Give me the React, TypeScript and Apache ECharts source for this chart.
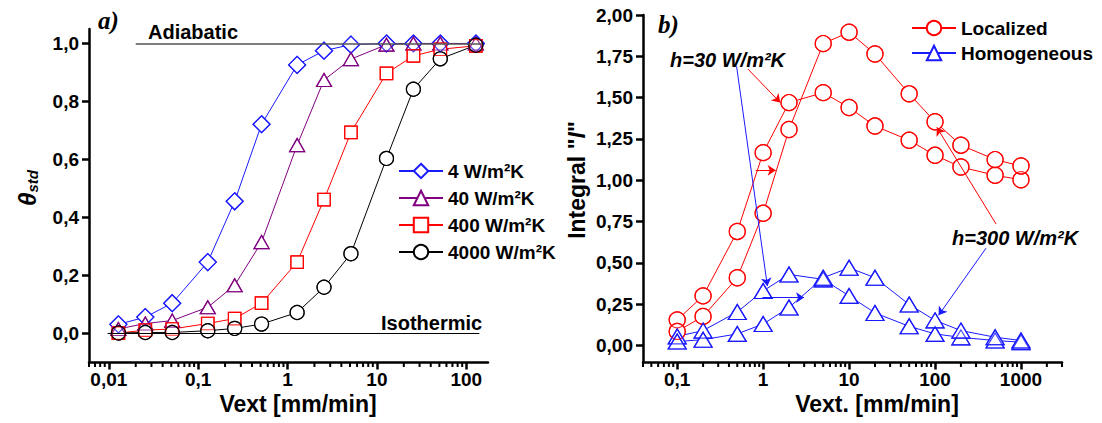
import React, { useEffect, useRef } from 'react';
import * as echarts from 'echarts';

// ---- Panel a) data ----
const vextA = [0.0128, 0.0256, 0.0512, 0.128, 0.256, 0.512, 1.28, 2.56, 5.12, 12.8, 25.6, 51.2, 128];
const theta4 = [0.03, 0.055, 0.103, 0.245, 0.455, 0.721, 0.926, 0.975, 0.996, 1.0, 1.0, 1.0, 1.0];
const theta40 = [0.014, 0.033, 0.043, 0.089, 0.165, 0.314, 0.649, 0.874, 0.946, 0.996, 1.0, 1.0, 1.0];
const theta400 = [0.0, 0.01, 0.014, 0.033, 0.05, 0.103, 0.245, 0.461, 0.693, 0.897, 0.957, 0.98, 0.992];
const theta4000 = [0.0, 0.002, 0.002, 0.008, 0.016, 0.031, 0.071, 0.158, 0.274, 0.603, 0.842, 0.947, 0.994];
const seriesNamesA = ['4 W/m²K', '40 W/m²K', '400 W/m²K', '4000 W/m²K'];

// ---- Panel b) data ----
const vextB = [0.1, 0.2, 0.5, 1, 2, 5, 10, 20, 50, 100, 200, 500, 1000];
const loc30 = [0.155, 0.3, 0.69, 1.167, 1.47, 1.53, 1.44, 1.328, 1.242, 1.151, 1.08, 1.03, 1.003];
const loc300 = [0.085, 0.176, 0.41, 0.8, 1.307, 1.827, 1.896, 1.764, 1.523, 1.354, 1.212, 1.125, 1.086];
const hom30 = [0.055, 0.09, 0.203, 0.33, 0.43, 0.4, 0.3, 0.197, 0.116, 0.07, 0.049, 0.03, 0.02];
const hom300 = [0.024, 0.035, 0.07, 0.13, 0.23, 0.41, 0.47, 0.41, 0.248, 0.152, 0.09, 0.05, 0.03];

// ---- axes ----
const xMajorA = [0.01, 0.1, 1, 10, 100];
const xMajorB = [0.1, 1, 10, 100, 1000];
const yTicksA = [0, 0.2, 0.4, 0.6, 0.8, 1.0];
const yTicksB = [0, 0.25, 0.5, 0.75, 1.0, 1.25, 1.5, 1.75, 2.0];
const minorMult = [2, 3, 4, 5, 6, 7, 8, 9];
const X_A = [0.006, 175];
const X_B = [0.04, 3000];
const Y_A = [-0.1, 1.05];
const Y_B = [-0.1, 2.0];

function minorTicks(lo: number, hi: number): number[] {
  const out: number[] = [];
  for (let e = -4; e <= 4; e++) {
    for (const m of minorMult) {
      const v = +(m * Math.pow(10, e)).toPrecision(3);
      if (v >= lo * 0.999 && v <= hi * 1.001) out.push(v);
    }
  }
  return out;
}

const FONT = '"Liberation Sans", Arial, sans-serif';
const BLUE = '#1a1aff';
const PURPLE = '#800080';
const RED = '#ff0000';
const BLACK = '#000000';
const TICK = '#000000';

const zip = (xs: number[], ys: number[]) => xs.map((x, i) => [x, ys[i]]);

function fmtX(v: number) {
  if (v >= 1) return String(Math.round(v));
  return String(+v.toPrecision(2)).replace('.', ',');
}

function lineSeries(name: string, xi: number, yi: number, data: number[][], color: string, symbol: string, size: any, extra: any = {}) {
  return {
    type: 'line', name, xAxisIndex: xi, yAxisIndex: yi, data,
    symbol, symbolSize: size, showSymbol: true,
    lineStyle: { color, width: 1 },
    itemStyle: { color: '#ffffff', borderColor: color, borderWidth: 1.2 },
    emphasis: { disabled: true },
    z: 2,
    ...extra,
  };
}
function overlay(xi: number, yi: number, data: number[][], color: string, symbol: string, size: any) {
  return {
    type: 'scatter', name: '_o', xAxisIndex: xi, yAxisIndex: yi, data,
    symbol, symbolSize: size, silent: true,
    itemStyle: { color: 'rgba(255,255,255,0)', borderColor: color, borderWidth: 1.2 },
    emphasis: { disabled: true },
    z: 4,
  };
}
function minorTickSeries(xi: number, yi: number, xExt: number[], yMin: number) {
  return {
    type: 'custom', name: '_t', xAxisIndex: xi, yAxisIndex: yi, silent: true, clip: false, z: 6,
    data: minorTicks(xExt[0], xExt[1]).map((v) => [v, yMin]),
    renderItem: (params: any, api: any) => {
      const p = api.coord([api.value(0), api.value(1)]);
      return {
        type: 'line',
        shape: { x1: p[0], y1: p[1], x2: p[0], y2: p[1] + 5 },
        style: { stroke: TICK, lineWidth: 2 },
      };
    },
  };
}

const axisLine = { show: true, onZero: false, lineStyle: { color: '#000', width: 2.5 } };
const tickLabel = { fontSize: 19, fontWeight: 'bold', fontFamily: FONT, color: '#000' };

function xMain(grid: number, ext: number[], majors: number[]) {
  return {
    gridIndex: grid, type: 'log', min: ext[0], max: ext[1], position: 'bottom',
    axisLine,
    axisTick: { show: true, inside: false, customValues: majors, length: 7.5, lineStyle: { color: TICK, width: 2.5 } },
    axisLabel: { show: true, customValues: majors, formatter: fmtX, margin: 8, ...tickLabel },
    splitLine: { show: false }, minorTick: { show: false }, minorSplitLine: { show: false },
  };
}
function yAxis(grid: number, ext: number[], ticks: number[], dec: number) {
  return {
    gridIndex: grid, type: 'value', min: ext[0], max: ext[1],
    axisLine,
    axisTick: { show: true, inside: false, customValues: ticks, length: 7, lineStyle: { color: TICK, width: 2.5 } },
    axisLabel: { show: true, customValues: ticks, formatter: (v: number) => v.toFixed(dec).replace('.', ','), margin: 10, ...tickLabel },
    splitLine: { show: false },
  };
}

function textG(x: number, y: number, text: string, opts: any = {}) {
  return {
    type: 'text', x, y, z: 100, rotation: opts.rotation || 0,
    style: {
      text, fill: '#000', fontFamily: opts.family || FONT, fontSize: opts.size || 20,
      fontWeight: 'bold', fontStyle: opts.italic ? 'italic' : 'normal',
      align: opts.align || 'left', verticalAlign: 'middle', rich: opts.rich,
    },
  };
}

export default function App() {
  const ref = useRef<HTMLDivElement>(null);
  useEffect(() => {
    if (!ref.current) return;
    const chart = echarts.init(ref.current, undefined, { renderer: 'svg' });
    const dataA = [theta4, theta40, theta400, theta4000].map((ys) => zip(vextA, ys));
    const colorsA = [BLUE, PURPLE, RED, BLACK];
    const symA = ['diamond', 'triangle', 'rect', 'circle'];
    const sizeA: any[] = [17, [15, 13], 12.5, 14];

    const series: any[] = [];
    dataA.forEach((d, i) => {
      const extra: any = {};
      if (i === 0) {
        extra.markLine = {
          silent: true, symbol: ['none', 'none'], label: { show: false },
          lineStyle: { type: 'solid' }, emphasis: { disabled: true },
          data: [
            [{ coord: [0.02, 1.0], lineStyle: { color: '#555555', width: 1.5, type: 'solid' } }, { coord: [150, 1.0] }],
            [{ coord: [0.0097, 0.0], lineStyle: { color: '#000000', width: 1.2, type: 'solid' } }, { coord: [140, 0.0] }],
          ],
        };
      }
      series.push(lineSeries(seriesNamesA[i], 0, 0, d, colorsA[i], symA[i], sizeA[i], extra));
    });
    dataA.forEach((d, i) => series.push(overlay(0, 0, d, colorsA[i], symA[i], sizeA[i])));

    const L30 = zip(vextB, loc30), L300 = zip(vextB, loc300);
    const H30 = zip(vextB, hom30), H300 = zip(vextB, hom300);
    const triSize = [18, 15];
    series.push(lineSeries('Localized', 1, 1, L30, RED, 'circle', 16, {
      markLine: {
        silent: true, symbol: ['none', 'arrow'], symbolSize: 8, label: { show: false },
        lineStyle: { color: RED, width: 1, type: 'solid' }, emphasis: { disabled: true },
        data: [
          [{ coord: [0.665, 1.673] }, { coord: [1.58, 1.47] }],
          [{ coord: [0.82, 1.06] }, { coord: [1.4, 1.06] }],
          [{ coord: [513, 0.735] }, { coord: [105, 1.32] }],
        ],
      },
    }));
    series.push(lineSeries('Localized', 1, 1, L300, RED, 'circle', 16));
    series.push(lineSeries('Homogeneous', 1, 1, H30, BLUE, 'triangle', triSize, {
      markLine: {
        silent: true, symbol: ['none', 'arrow'], symbolSize: 8, label: { show: false },
        lineStyle: { color: BLUE, width: 1, type: 'solid' }, emphasis: { disabled: true },
        data: [
          [{ coord: [0.491, 1.689] }, { coord: [1.12, 0.36] }],
          [{ coord: [0.98, 0.29] }, { coord: [2.99, 0.29] }],
          [{ coord: [392, 0.589] }, { coord: [110, 0.183] }],
        ],
      },
    }));
    series.push(lineSeries('Homogeneous', 1, 1, H300, BLUE, 'triangle', triSize));
    series.push(overlay(1, 1, L30, RED, 'circle', 16));
    series.push(overlay(1, 1, L300, RED, 'circle', 16));
    series.push(overlay(1, 1, H30, BLUE, 'triangle', triSize));
    series.push(overlay(1, 1, H300, BLUE, 'triangle', triSize));
    series.push(minorTickSeries(0, 0, X_A, Y_A[0]));
    series.push(minorTickSeries(1, 1, X_B, Y_B[0]));

    const legendText = { fontSize: 19, fontWeight: 'bold', fontFamily: FONT, color: '#000', lineHeight: 20 };
    const supRich = {
      t: { fontSize: 24, fontWeight: 'bold', fontStyle: 'italic', fontFamily: FONT, lineHeight: 26 },
      s: { fontSize: 15, fontWeight: 'bold', fontStyle: 'italic', fontFamily: FONT, lineHeight: 16, verticalAlign: 'bottom' },
    };
    const intRich = {
      a: { fontSize: 23, fontWeight: 'bold', fontFamily: FONT },
      i: { fontSize: 23, fontWeight: 'bold', fontStyle: 'italic', fontFamily: FONT },
    };

    chart.setOption({
      animation: false,
      backgroundColor: '#ffffff',
      grid: [
        { left: 89, top: 29, width: 399, height: 333 },
        { left: 643, top: 15, width: 419, height: 347 },
      ],
      xAxis: [xMain(0, X_A, xMajorA), xMain(1, X_B, xMajorB)],
      yAxis: [yAxis(0, Y_A, yTicksA, 1), yAxis(1, Y_B, yTicksB, 2)],
      legend: [
        {
          data: seriesNamesA, orient: 'vertical', left: 393, top: 156,
          itemWidth: 44, itemHeight: 18, itemGap: 7, selectedMode: false, textStyle: legendText,
        },
        {
          data: ['Localized', 'Homogeneous'], orient: 'vertical', left: 906, top: 13,
          itemWidth: 44, itemHeight: 18, itemGap: 5, selectedMode: false, textStyle: legendText,
        },
      ],
      graphic: [
        textG(98, 20, 'a)', { family: '"Liberation Serif", "Times New Roman", serif', size: 25, italic: true }),
        textG(658, 24, 'b)', { family: '"Liberation Serif", "Times New Roman", serif', size: 25, italic: true }),
        textG(148, 32, 'Adiabatic', { size: 20 }),
        textG(381, 323, 'Isothermic', { size: 20 }),
        textG(670, 60, 'h=30 W/m²K', { size: 20, italic: true }),
        textG(952, 238, 'h=300 W/m²K', { size: 20, italic: true }),
        textG(298, 404, 'Vext [mm/min]', { size: 23, align: 'center' }),
        textG(877, 404, 'Vext. [mm/min]', { size: 23, align: 'center' }),
        textG(27, 188, '{t|θ}{s|std}', { align: 'center', rotation: Math.PI / 2, rich: supRich }),
        textG(577, 180, '{a|Integral "}{i|I}{a|"}', { align: 'center', rotation: Math.PI / 2, rich: intRich }),
      ],
      series,
    });
    return () => chart.dispose();
  }, []);
  return (
    <div
      ref={ref}
      style={{ position: 'fixed', left: 0, top: 0, width: 1102, height: 423, background: '#fff' }}
    />
  );
}
